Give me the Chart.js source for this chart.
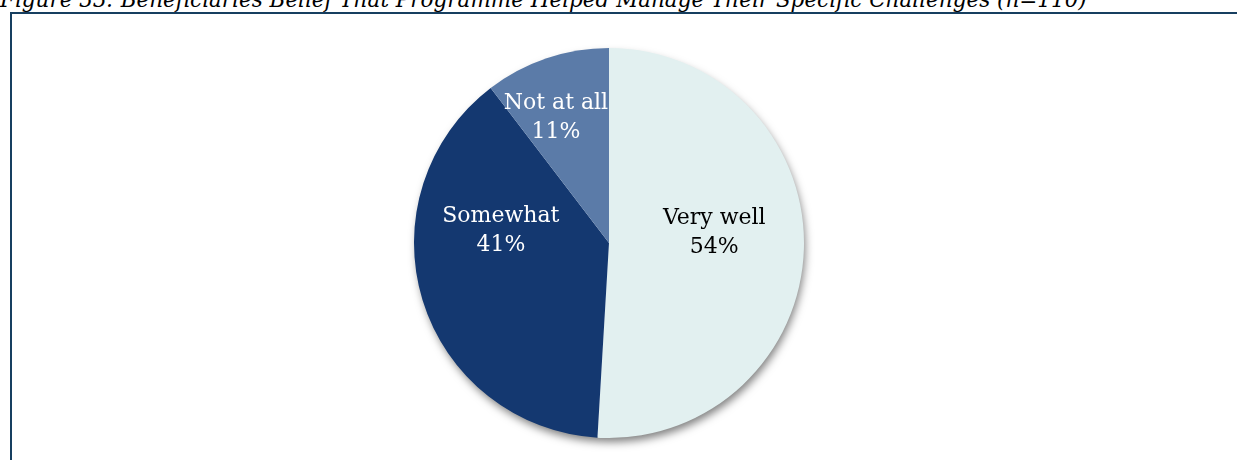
<!DOCTYPE html>
<html lang="en">
<head>
<meta charset="UTF-8">
<title>Figure 33</title>
<script src="https://cdn.jsdelivr.net/npm/chart.js"></script>
<style>
    body { margin: 0; background: #fff; width: 1237px; height: 460px; overflow: hidden; position: relative; }
    .title {
        position: absolute; left: 0; top: -13px; white-space: nowrap;
        font-family: "DejaVu Serif", serif; font-style: italic; font-size: 21.5px; color: #000;
    }
    .frame {
        position: absolute; left: 10px; top: 12px; right: 0; bottom: 0;
        border-left: 2px solid #173f60; border-top: 2px solid #173f60;
    }
    .pie-box { position: absolute; left: 389px; top: 23px; width: 440px; height: 440px; }
</style>
</head>
<body>
<div class="title">Figure 33: Beneficiaries Belief That Programme Helped Manage Their Specific Challenges (n=110)</div>
<div class="frame"></div>
<div class="pie-box"><canvas id="pie"></canvas></div>

<script>
const categories = ['Very well', 'Somewhat', 'Not at all'];
const shares = [54, 41, 11];
const sliceColors = ['#e2f0f0', '#143870', '#5b7ba8'];
const labelColors = ['#000000', '#ffffff', '#ffffff'];

// soft drop shadow under the whole pie
const pieShadow = {
    id: 'pieShadow',
    beforeDatasetsDraw(chart) {
        const arc = chart.getDatasetMeta(0).data[0];
        if (!arc) return;
        const ctx = chart.ctx;
        ctx.save();
        ctx.shadowColor = 'rgba(0,0,0,0.5)';
        ctx.shadowBlur = 9;
        ctx.shadowOffsetX = 2;
        ctx.shadowOffsetY = 5;
        ctx.fillStyle = '#ffffff';
        ctx.beginPath();
        ctx.arc(arc.x, arc.y, arc.outerRadius - 1, 0, Math.PI * 2);
        ctx.fill();
        ctx.restore();
    }
};

// category name and percentage inside each slice
// (radius fraction along the slice's mid angle, then a small vertical nudge)
const labelRadius = [0.54, 0.58, 0.85];
const labelNudge = [-14, -46, 31];
const sliceLabels = {
    id: 'sliceLabels',
    afterDatasetsDraw(chart) {
        const ctx = chart.ctx;
        const meta = chart.getDatasetMeta(0);
        ctx.save();
        ctx.font = '22px "DejaVu Serif", serif';
        ctx.textAlign = 'center';
        ctx.textBaseline = 'middle';
        meta.data.forEach((arc, i) => {
            const mid = (arc.startAngle + arc.endAngle) / 2;
            const r = arc.outerRadius * labelRadius[i];
            const x = arc.x + Math.cos(mid) * r;
            const y = arc.y + Math.sin(mid) * r + labelNudge[i];
            ctx.fillStyle = labelColors[i];
            ctx.fillText(categories[i], x, y - 14);
            ctx.fillText(shares[i] + '%', x, y + 15);
        });
        ctx.restore();
    }
};

new Chart(document.getElementById('pie'), {
    type: 'pie',
    data: {
        labels: categories,
        datasets: [{
            data: shares,
            backgroundColor: sliceColors,
            borderWidth: 0
        }]
    },
    options: {
        responsive: true,
        maintainAspectRatio: false,
        animation: false,
        layout: { padding: 25 },
        plugins: {
            legend: { display: false },
            tooltip: { enabled: false }
        }
    },
    plugins: [pieShadow, sliceLabels]
});
</script>
</body>
</html>
